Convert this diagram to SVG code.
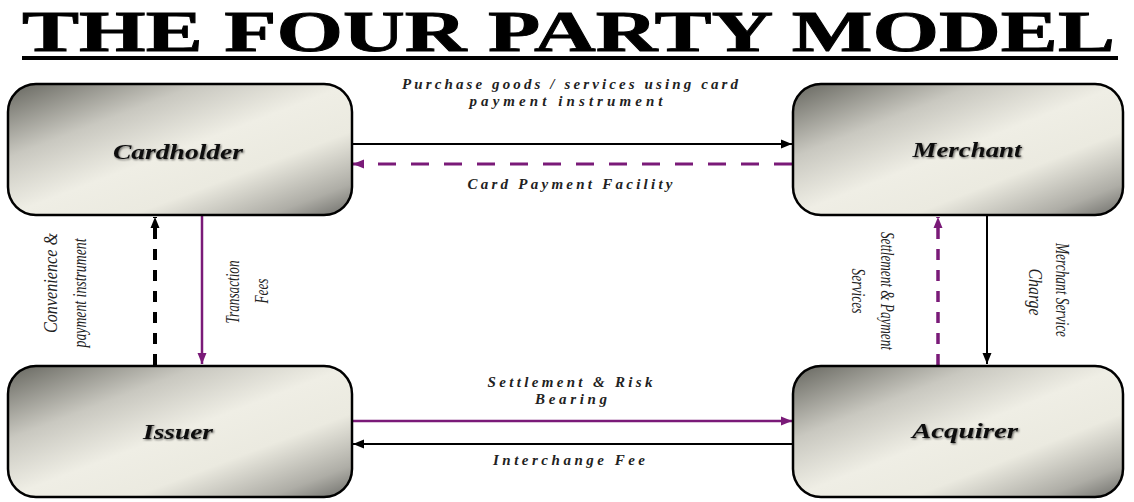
<svg xmlns="http://www.w3.org/2000/svg" width="1134" height="502" viewBox="0 0 1134 502">
<defs>
<linearGradient id="boxGrad" x1="0" y1="0" x2="1" y2="1">
<stop offset="0" stop-color="#66665f"/>
<stop offset="0.28" stop-color="#c9c8c0"/>
<stop offset="0.5" stop-color="#efeee5"/>
<stop offset="0.68" stop-color="#ebeae0"/>
<stop offset="0.88" stop-color="#aeada6"/>
<stop offset="1" stop-color="#6c6c68"/>
</linearGradient>
<filter id="shadow" x="-10%" y="-40%" width="120%" height="180%">
<feGaussianBlur in="SourceAlpha" stdDeviation="1.2" result="b"/>
<feOffset in="b" dx="1" dy="1" result="o"/>
<feComponentTransfer in="o" result="s"><feFuncA type="linear" slope="0.6"/></feComponentTransfer>
<feMerge><feMergeNode in="s"/><feMergeNode in="SourceGraphic"/></feMerge>
</filter>
<marker id="arrBlack" markerUnits="userSpaceOnUse" markerWidth="12" markerHeight="10" refX="11" refY="5" orient="auto">
<path d="M0,0.5 L11,5 L0,9.5 z" fill="#000"/>
</marker>
<marker id="arrPurple" markerUnits="userSpaceOnUse" markerWidth="12" markerHeight="10" refX="11" refY="5" orient="auto">
<path d="M0,0.5 L11,5 L0,9.5 z" fill="#7a1a78"/>
</marker>
</defs>
<style>
.box{fill:url(#boxGrad);stroke:#000;stroke-width:2.5}
.nlabel{font-family:"Liberation Serif",serif;font-weight:bold;font-style:italic;font-size:21px;fill:#111;text-anchor:middle;filter:url(#shadow)}
.elabel{font-family:"Liberation Serif",serif;font-weight:bold;font-style:italic;font-size:15px;fill:#222;text-anchor:middle}
.vlabel{font-family:"Liberation Serif",serif;font-style:italic;font-size:18px;fill:#222;text-anchor:middle}
.solidB{stroke:#000;stroke-width:2;fill:none;marker-end:url(#arrBlack)}
.solidP{stroke:#7a1a78;stroke-width:2.5;fill:none;marker-end:url(#arrPurple)}
.dashP{stroke:#7a1a78;stroke-width:3;fill:none;stroke-dasharray:18 15;marker-end:url(#arrPurple)}
.dashPV{stroke:#7a1a78;stroke-width:3.5;fill:none;stroke-dasharray:11 10;marker-end:url(#arrPurple)}
.dashBV{stroke:#000;stroke-width:4;fill:none;stroke-dasharray:11 10;marker-end:url(#arrBlack)}
</style>
<rect width="1134" height="502" fill="#fff"/>
<g id="title">
<text x="22" y="51" font-family="'Liberation Serif',serif" font-weight="bold" font-size="58" textLength="1093" lengthAdjust="spacingAndGlyphs" fill="#000" stroke="#000" stroke-width="0.8">THE FOUR PARTY MODEL</text>
<rect x="22" y="56" width="1096" height="4" fill="#000"/>
</g>
<g id="connectors">
<line class="solidB" x1="352" y1="144" x2="792" y2="144"/>
<line class="dashP" x1="792" y1="164" x2="353" y2="164"/>
<line class="dashBV" x1="155" y1="365" x2="155" y2="217"/>
<line class="solidP" x1="202" y1="216" x2="202" y2="364"/>
<line class="dashPV" x1="938" y1="365" x2="938" y2="217"/>
<line class="solidB" x1="987" y1="216" x2="987" y2="364"/>
<line class="solidP" x1="352" y1="421" x2="792" y2="421"/>
<line class="solidB" x1="792" y1="444" x2="353" y2="444"/>
<text class="elabel" x="570" y="89" textLength="336" lengthAdjust="spacing">Purchase goods / services using card</text>
<text class="elabel" x="566" y="106" textLength="193" lengthAdjust="spacing">payment instrument</text>
<text class="elabel" x="570" y="189" textLength="205" lengthAdjust="spacing">Card Payment Facility</text>
<text class="elabel" x="570" y="387" textLength="165" lengthAdjust="spacing">Settlement &amp; Risk</text>
<text class="elabel" x="571" y="404" textLength="72" lengthAdjust="spacing">Bearing</text>
<text class="elabel" x="569" y="465" textLength="152" lengthAdjust="spacing">Interchange Fee</text>
<text class="vlabel" transform="translate(57,283) rotate(-90)" textLength="100" lengthAdjust="spacingAndGlyphs">Convenience &amp;</text>
<text class="vlabel" transform="translate(86,293) rotate(-90)" textLength="109" lengthAdjust="spacingAndGlyphs">payment instrument</text>
<text class="vlabel" transform="translate(239,292) rotate(-90)" textLength="63" lengthAdjust="spacingAndGlyphs">Transaction</text>
<text class="vlabel" transform="translate(268,291) rotate(-90)" textLength="25" lengthAdjust="spacingAndGlyphs">Fees</text>
<text class="vlabel" transform="translate(1056,290) rotate(90)" textLength="94" lengthAdjust="spacingAndGlyphs">Merchant Service</text>
<text class="vlabel" transform="translate(1029,292) rotate(90)" textLength="47" lengthAdjust="spacingAndGlyphs">Charge</text>
<text class="vlabel" transform="translate(881,291) rotate(90)" textLength="118" lengthAdjust="spacingAndGlyphs">Settlement &amp; Payment</text>
<text class="vlabel" transform="translate(852,291) rotate(90)" textLength="45" lengthAdjust="spacingAndGlyphs">Services</text>
</g>
<g id="cardholder">
<rect class="box" x="8" y="84" width="344" height="131" rx="28" ry="28"/>
<text class="nlabel" x="178" y="159" textLength="130" lengthAdjust="spacingAndGlyphs">Cardholder</text>
</g>
<g id="merchant">
<rect class="box" x="793" y="84" width="330" height="131" rx="28" ry="28"/>
<text class="nlabel" x="967" y="157" textLength="109" lengthAdjust="spacingAndGlyphs">Merchant</text>
</g>
<g id="issuer">
<rect class="box" x="8" y="366" width="344" height="131" rx="28" ry="28"/>
<text class="nlabel" x="178" y="439" textLength="70" lengthAdjust="spacingAndGlyphs">Issuer</text>
</g>
<g id="acquirer">
<rect class="box" x="793" y="366" width="330" height="131" rx="28" ry="28"/>
<text class="nlabel" x="965" y="438" textLength="106" lengthAdjust="spacingAndGlyphs">Acquirer</text>
</g>
</svg>
